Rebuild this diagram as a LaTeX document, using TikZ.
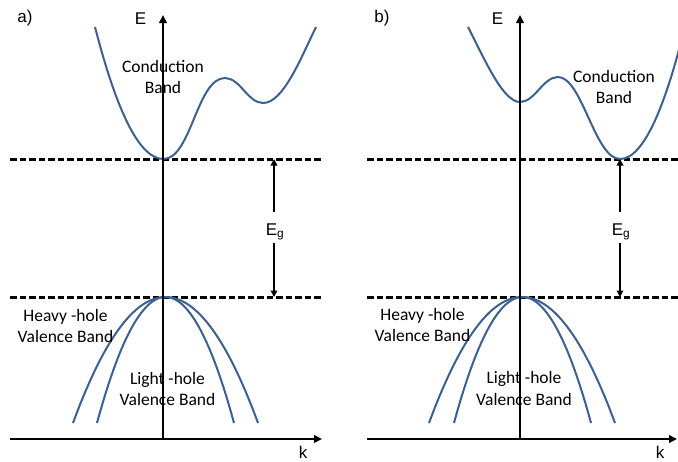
\documentclass[tikz,border=0pt]{standalone}
\usepackage{fontspec}
\setmainfont{Liberation Sans}
\newfontfamily\calib{Carlito}
\usetikzlibrary{arrows.meta}
\definecolor{bandblue}{RGB}{60,96,146}
\begin{document}
\begin{tikzpicture}[x=1pt,y=-1pt,
  axis/.style={line width=2pt,-{Triangle[length=8pt,width=7.5pt]}},
  level/.style={line width=3pt,dash pattern=on 6.5pt off 3pt},
  band/.style={line width=2pt,draw=bandblue},
  gaparrow/.style={line width=1.7pt,-{Triangle[length=6.5pt,width=6.5pt]}},
  lab/.style={font=\fontsize{17}{20}\selectfont,inner sep=0pt},
  blab/.style={font=\calib\fontsize{17.5}{21.5}\selectfont,align=center,inner sep=0pt},
  eglab/.style={font=\fontsize{17}{20}\selectfont,inner xsep=0pt,inner ysep=0pt,text height=23pt,text depth=8pt,anchor=base}]
\useasboundingbox (0,0) rectangle (678,461);
\clip (0,0) rectangle (678,461);
\fill[white] (0,0) rectangle (678,461);

% ---------- panel a ----------
\coordinate (aO) at (163,439);
\coordinate (aEtop) at (163,15);
\coordinate (aKl) at (10,439);
\coordinate (aKr) at (322,439);
\coordinate (aCl) at (10,159.5);
\coordinate (aCr) at (321,159.5);
\coordinate (aVl) at (10,297.5);
\coordinate (aVr) at (321,297.5);
\coordinate (aGc) at (274,159);
\coordinate (aGv) at (274,297);

\draw[level] (aCl) -- (aCr);
\draw[level] (aVl) -- (aVr);

\draw[band] (95,27) .. controls (117.7,115) and (140.3,159) .. (163.5,159)
  .. controls (191,159) and (197,78) .. (225,78)
  .. controls (240,78) and (248,103) .. (263,103)
  .. controls (283,103) and (300,60) .. (316,27);
\draw[band] plot[domain=-92.5:92.5,samples=60] ({165.5+\x},{297+126*(\x/92.5)^2});
\draw[band] plot[domain=-68.5:68.5,samples=60] ({165.5+\x},{297+126*(\x/68.5)^2});

\draw[axis] (aO) -- (aEtop);
\draw[axis] (aKl) -- (aKr);

\node[eglab] (aEg) at (275,235) {E\textsubscript{g}};
\draw[gaparrow] (aEg.north -| aGc) -- (aGc);
\draw[gaparrow] (aEg.south -| aGv) -- (aGv);

\node[lab] (aLbl) at (25,18.5) {a)};
\node[lab] (aE) at (140.5,18.5) {E};
\node[lab] (ak) at (303,452) {k};
\node[blab] (aCB) at (163,77) {Conduction\\Band};
\node[blab] (aHH) at (65.5,326) {Heavy -hole\\Valence Band};
\node[blab] (aLH) at (167.5,389) {Light -hole\\Valence Band};

% ---------- panel b ----------
\coordinate (bO) at (520,439);
\coordinate (bEtop) at (520,15);
\coordinate (bKl) at (367,439);
\coordinate (bKr) at (677,439);
\coordinate (bCl) at (367,159.5);
\coordinate (bCr) at (680,159.5);
\coordinate (bVl) at (367,297.5);
\coordinate (bVr) at (680,297.5);
\coordinate (bGc) at (620,159);
\coordinate (bGv) at (620,297);

\draw[level] (bCl) -- (bCr);
\draw[level] (bVl) -- (bVr);

\draw[band] (468,27) .. controls (485,60) and (503,102) .. (520,102)
  .. controls (535,102) and (543,77) .. (558,77)
  .. controls (582,77) and (595,159) .. (620,159)
  .. controls (643.3,159) and (666.7,107.7) .. (690,5);
\draw[band] plot[domain=-93:93,samples=60] ({522+\x},{297+126*(\x/93)^2});
\draw[band] plot[domain=-68.5:68.5,samples=60] ({522.5+\x},{297+126*(\x/68.5)^2});

\draw[axis] (bO) -- (bEtop);
\draw[axis] (bKl) -- (bKr);

\node[eglab] (bEg) at (621,235) {E\textsubscript{g}};
\draw[gaparrow] (bEg.north -| bGc) -- (bGc);
\draw[gaparrow] (bEg.south -| bGv) -- (bGv);

\node[lab] (bLbl) at (382,18.5) {b)};
\node[lab] (bE) at (497.5,18.5) {E};
\node[lab] (bk) at (660,452) {k};
\node[blab] (bCB) at (614,87) {Conduction\\Band};
\node[blab] (bHH) at (422.5,325) {Heavy -hole\\Valence Band};
\node[blab] (bLH) at (524,388.5) {Light -hole\\Valence Band};
\end{tikzpicture}
\end{document}
